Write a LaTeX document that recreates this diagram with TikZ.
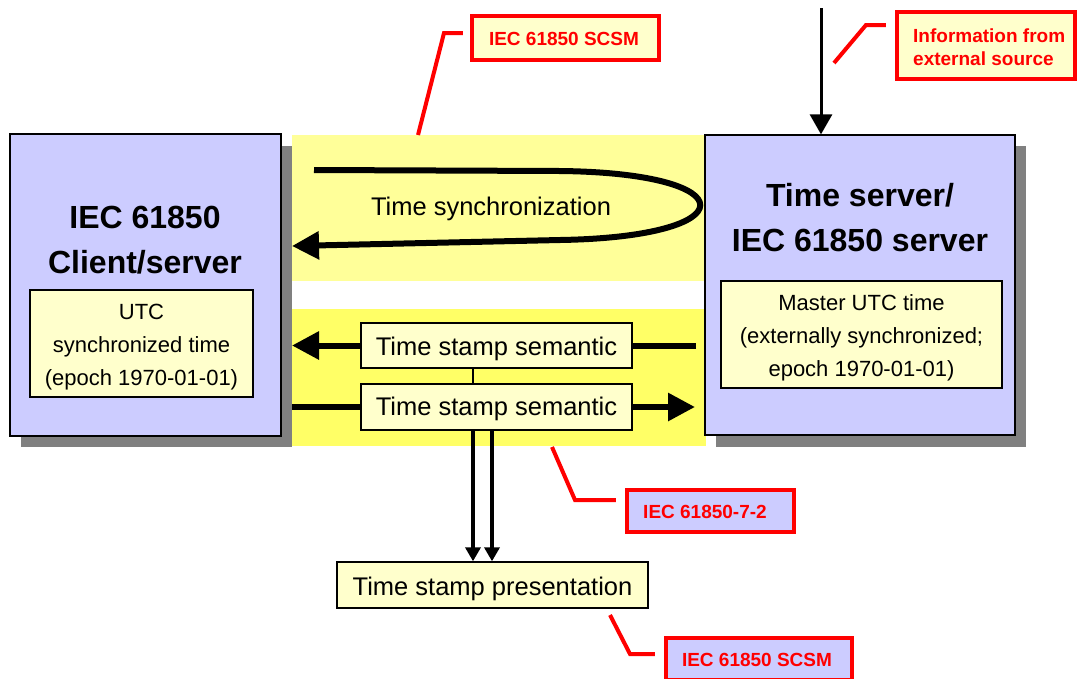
\documentclass[tikz,border=0pt]{standalone}
\usepackage{fontspec}
\setmainfont{Liberation Sans}
\usetikzlibrary{arrows.meta}
\definecolor{lav}{HTML}{CCCCFF}
\definecolor{ltyel}{HTML}{FFFFCC}
\definecolor{bandA}{HTML}{FFFF99}
\definecolor{bandB}{HTML}{FFFF66}
\definecolor{shad}{HTML}{808080}
\definecolor{redc}{HTML}{FF0000}
\tikzset{
  mainbox/.style={draw=black, line width=1.3pt, fill=lav, inner sep=0pt},
  shadowbox/.style={fill=shad, draw=none},
  yelbox/.style={draw=black, line width=1.4pt, fill=ltyel, inner sep=0pt},
  calloutY/.style={draw=redc, line width=4.5pt, fill=ltyel, inner sep=0pt},
  calloutB/.style={draw=redc, line width=4.5pt, fill=lav, inner sep=0pt},
  calltext/.style={text=redc, font=\bfseries\fontsize{19}{23}\selectfont, inner sep=0pt},
  leader/.style={draw=redc, line width=4pt},
  fatarrow/.style={line width=6pt, -{Triangle[length=27pt,width=27pt]}},
  fatline/.style={line width=6pt},
  thinarrow/.style={line width=3.5pt, -{Triangle[length=14pt,width=15pt]}},
  toparrow/.style={line width=3pt, -{Triangle[length=20pt,width=22pt]}},
  stxt/.style={font=\fontsize{25.5}{30}\selectfont, inner sep=0pt},
  titletxt/.style={font=\bfseries\fontsize{32}{45}\selectfont, align=center, inner sep=0pt},
  innertxt/.style={font=\fontsize{22}{33}\selectfont, align=center, inner sep=0pt}
}
\begin{document}
\begin{tikzpicture}[x=1pt,y=-1pt]
\useasboundingbox (0,0) rectangle (1077,678);
% shadows
\fill[shad] (21,146) rectangle (292,447);
\fill[shad] (716,146) rectangle (1026,447);
% bands
\fill[bandA] (292,135) rectangle (705,281);
\fill[bandB] (292,309) rectangle (706,446);
% main boxes
\node[mainbox, minimum width=271pt, minimum height=302pt] (L) at (145.5,285) {};
\node[mainbox, minimum width=310pt, minimum height=300pt] (R) at (860,285) {};
% inner boxes
\node[yelbox, minimum width=223pt, minimum height=107pt] (Li) at (141.5,343.5) {};
\node[yelbox, minimum width=281pt, minimum height=107pt] (Ri) at (861.5,334.5) {};
% titles
\node[titletxt] (Lt) at (145,240) {IEC 61850\\Client/server};
\node[titletxt] (Rt) at (860,218) {Time server/\\IEC 61850 server};
\node[innertxt] (Lit) at (141.5,347.5) {UTC\\synchronized time\\(epoch 1970-01-01)};
\node[innertxt] (Rit) at (861.5,337.5) {Master UTC time\\(externally synchronized;\\epoch 1970-01-01)};
% time synchronization loop
\coordinate (ts0) at (314,170);
\coordinate (ts1) at (292,246);
\draw[fatarrow] (ts0) -- (560,171) .. controls (747,173) and (747,237) .. (560,240) -- (ts1);
\node[stxt, anchor=base] (tsy) at (491,215) {Time synchronization};
% time stamp semantic boxes
\node[yelbox, minimum width=271pt, minimum height=45pt] (s1) at (496.5,345.5) {};
\node[stxt, anchor=base] at (496.5,355) {Time stamp semantic};
\node[yelbox, minimum width=271pt, minimum height=46pt] (s2) at (496.5,407) {};
\node[stxt, anchor=base] at (496.5,415.5) {Time stamp semantic};
\coordinate (a1l) at (292,345.5);
\coordinate (a1r) at (696,345.5);
\coordinate (a2l) at (292,407);
\coordinate (a2r) at (695,407);
\draw[fatarrow] (s1.west) -- (a1l);
\draw[fatline] (a1r) -- (s1.east);
\draw[fatline] (a2l) -- (s2.west);
\draw[fatarrow] (s2.east) -- (a2r);
% presentation
\node[yelbox, minimum width=311pt, minimum height=46pt] (p) at (492.5,585) {};
\node[stxt, anchor=base] at (492.5,595) {Time stamp presentation};
\coordinate (v1) at (473,0);
\coordinate (v2) at (492,0);
\draw[line width=1.4pt] (s1.south -| v1) -- (s2.north -| v1);
\draw[thinarrow] (s2.south -| v1) -- (p.north -| v1);
\draw[thinarrow] (s2.south -| v2) -- (p.north -| v2);
% external arrow
\coordinate (ext) at (821,8);
\draw[toparrow] (ext) -- (R.north -| ext);
% callouts
\node[calloutY, minimum width=187pt, minimum height=44pt] (c1) at (565.5,38) {};
\node[calltext] at (564,38.5) {IEC 61850 SCSM};
\draw[leader] ([xshift=-7pt,yshift=5pt]c1.west) -- (444,33) -- (418,135);

\node[calloutY, minimum width=178pt, minimum height=67pt] (c2) at (986,45.5) {};
\node[calltext, align=left, anchor=west] at (913,47) {Information from\\external source};
\draw[leader] ([xshift=-9pt,yshift=20.5pt]c2.west) -- (866,25) -- (834,63);

\node[calloutB, minimum width=167pt, minimum height=42pt] (c3) at (710.5,511) {};
\node[calltext] at (705,511.5) {IEC 61850-7-2};
\draw[leader] ([xshift=-9pt,yshift=11pt]c3.west) -- (575,500) -- (552,447);

\node[calloutB, minimum width=186pt, minimum height=42pt] (c4) at (759,659) {};
\node[calltext] at (757,659.5) {IEC 61850 SCSM};
\draw[leader] ([xshift=-9pt,yshift=5pt]c4.west) -- (630,654) -- (610,615);
\end{tikzpicture}
\end{document}
